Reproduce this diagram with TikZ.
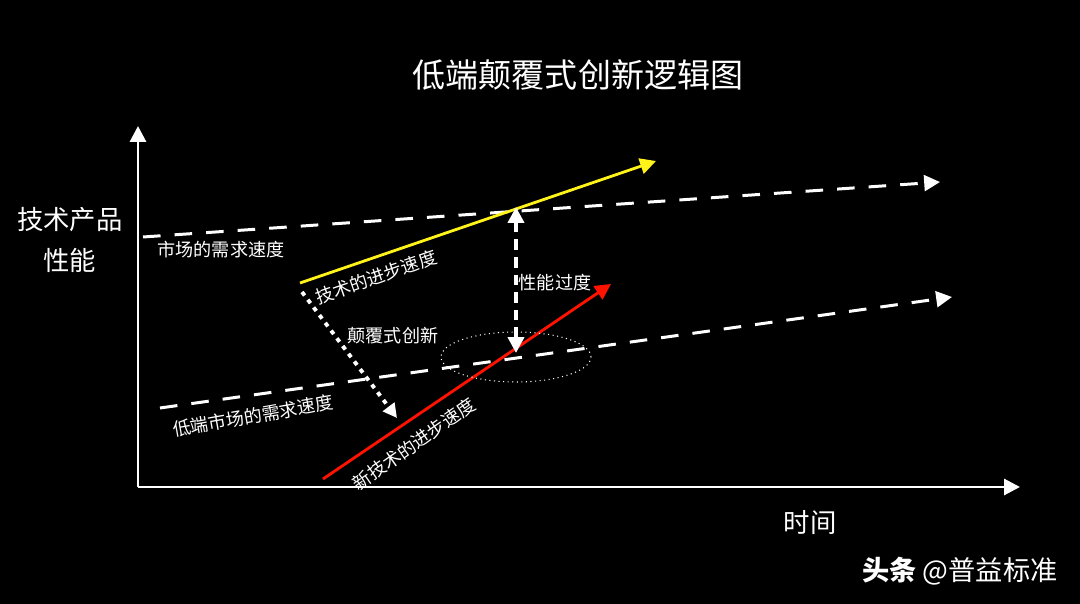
\documentclass[tikz,border=0pt]{standalone}
\usepackage{fontspec}
\setmainfont{Noto Sans CJK SC}
\usetikzlibrary{arrows.meta,shapes.geometric,positioning}

\begin{document}
\begin{tikzpicture}[x=0.02cm,y=-0.02cm,
        axis/.style={white,line width=1.7pt,-{Triangle[width=9pt,length=9pt]}},
        demand/.style={white,line width=1.7pt,dash pattern=on 10pt off 8pt,-{Triangle[width=9pt,length=9pt]}},
        lbl/.style={white,font=\fontsize{10.3}{12}\selectfont,inner sep=1pt},
        big/.style={white,font=\fontsize{15}{23}\selectfont,align=center}]
    \fill[black] (0,0) rectangle (1080,604);
    \useasboundingbox (0,0) rectangle (1080,604);

    % title and axes
    \node[white,font=\fontsize{18.8}{22}\selectfont] (title) at (578,75) {低端颠覆式创新逻辑图};
    \coordinate (O) at (138,487);
    \coordinate (Ytop) at (138,126);
    \coordinate (Xend) at (1020,487);
    \draw[axis] (O) -- (Ytop);
    \draw[axis] (O) -- (Xend);
    \node[big] (ylabel) at (70,240) {技术产品\\性能};
    \node[big] (xlabel) at (810,523) {时间};
    \node[white,font=\fontsize{15.5}{18}\selectfont] (mark) at (960,571) {\textbf{头条} @普益标准};

    % demand of the market
    \coordinate (M1) at (143,237);
    \coordinate (M2) at (940,182);
    \draw[demand] (M1) -- (M2);
    \node[lbl] (Mlbl) at (221,250) {市场的需求速度};

    % demand of the low end
    \coordinate (L1) at (160,408);
    \coordinate (L2) at (952,297);
    \draw[demand] (L1) -- (L2);
    \node[lbl,rotate=10] (Llbl) at (253,416) {低端市场的需求速度};

    % technology
    \coordinate (T1) at (300,283);
    \coordinate (T2) at (656,161);
    \draw[yellow!90!white,line width=1.6pt,-{Triangle[width=9pt,length=9pt]}] (T1) -- (T2);
    \node[lbl,rotate=19] (Tlbl) at (376,277) {技术的进步速度};

    % new technology
    \coordinate (R1) at (323,479);
    \coordinate (R2) at (611,284);
    \draw[red!85!orange,line width=1.6pt,-{Triangle[width=9pt,length=9pt]}] (R1) -- (R2);
    \node[lbl,rotate=35] (Rlbl) at (414,444) {新技术的进步速度};

    % disruption
    \coordinate (D1) at (302,292);
    \coordinate (D2) at (397,418);
    \draw[white,line width=2.2pt,dash pattern=on 2.5pt off 3pt,-{Triangle[width=8pt,length=8pt]}] (D1) -- (D2);
    \node[lbl] (Dlbl) at (393,336) {颠覆式创新};

    % overshoot
    \coordinate (P1) at (516,207);
    \coordinate (P2) at (516,353);
    \draw[white,line width=2.2pt,dash pattern=on 6pt off 4pt,{Triangle[width=9pt,length=9pt]}-{Triangle[width=9pt,length=9pt]}] (P1) -- (P2);
    \node[lbl] (Plbl) at (555,283) {性能过度};

    \node[draw=white,dotted,line width=0.6pt,ellipse,minimum width=3cm,minimum height=1cm,inner sep=0pt] (E) at (516,357) {};
\end{tikzpicture}
\end{document}
